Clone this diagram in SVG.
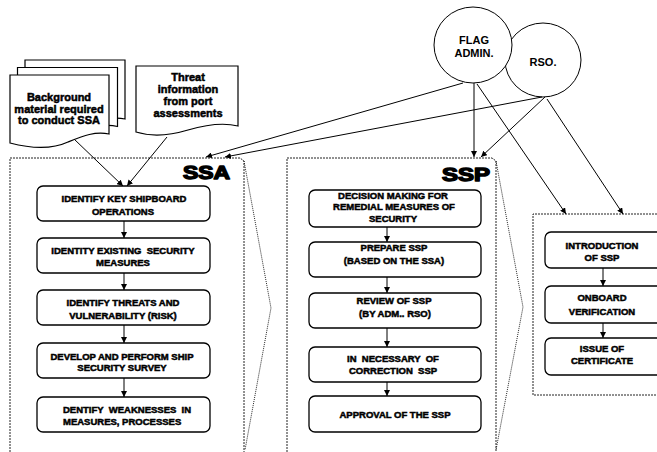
<svg xmlns="http://www.w3.org/2000/svg" width="657" height="452" viewBox="0 0 657 452">
<defs>
<marker id="ah" markerWidth="6" markerHeight="6" refX="6" refY="3" orient="auto" markerUnits="userSpaceOnUse">
<path d="M0,0 L6,3 L0,6 Z" fill="#000"/>
</marker>
<style>
.node rect{fill:#fff;stroke:#000;stroke-width:1.3}
.nt{font-family:"Liberation Sans",Arial,sans-serif;font-weight:bold;font-size:9.5px;text-anchor:middle;fill:#000;stroke:#000;stroke-width:0.5;white-space:pre}
.dt{font-family:"Liberation Sans",Arial,sans-serif;font-weight:bold;font-size:11px;text-anchor:middle;fill:#000;stroke:#000;stroke-width:0.5}
.ct{font-family:"Liberation Sans",Arial,sans-serif;font-weight:bold;font-size:11px;text-anchor:middle;fill:#000}
.big{font-family:"Liberation Sans",Arial,sans-serif;font-weight:bold;font-size:18px;fill:#000;stroke:#000;stroke-width:1.4;stroke-linejoin:round}
.frame{fill:none;stroke:#222;stroke-width:1;stroke-dasharray:2,1}
.chev{fill:none;stroke:#111;stroke-width:0.9;stroke-dasharray:1,1}
.doc{fill:#fff;stroke:#000;stroke-width:1.2}
.con line,.con path{stroke:#000;stroke-width:1;fill:none}
.arr{marker-end:url(#ah)}
</style>
</defs>

<!-- frames -->
<g id="frame-ssa">
<path class="frame" d="M10,452 V158 H240 L244,161 V452"/>
<path class="chev" d="M244,161 L271,308 L245,450"/>
<text class="big" x="183" y="179" textLength="47" lengthAdjust="spacingAndGlyphs">SSA</text>
</g>
<g id="frame-ssp">
<path class="frame" d="M287,452 V158 H492 L496,161 V452"/>
<path class="chev" d="M496,161 L523,307 L496,450"/>
<text class="big" x="442" y="181" textLength="48" lengthAdjust="spacingAndGlyphs">SSP</text>
</g>
<g id="frame-cert">
<path class="frame" d="M680,395 H533 V214 H680"/>
</g>

<!-- documents -->
<g id="doc-background">
<path class="doc" d="M25,60 H125 V119 C111,116 99,121 84,127 C69,134 49,134 25,128 Z"/>
<path class="doc" d="M17.5,67.5 H117.5 V126.5 C103,123 91,128 76,134 C61,141 41,141 17.5,135 Z"/>
<path class="doc" d="M10,75 H109 V134 C95,131 83,136 68,142 C53,149 33,149 10,143 Z"/>
<text class="dt" x="59" y="101">Background</text>
<text class="dt" x="59" y="112.5">material required</text>
<text class="dt" x="59" y="124">to conduct SSA</text>
</g>
<g id="doc-threat">
<path class="doc" d="M136,66 H238 V126 C222,122 205,125 188,130 C168,136 152,137 136,132 Z"/>
<text class="dt" x="188" y="81">Threat</text>
<text class="dt" x="188" y="93">information</text>
<text class="dt" x="188" y="105">from port</text>
<text class="dt" x="188" y="116.5">assessments</text>
</g>

<!-- circles -->
<g id="rso">
<ellipse cx="543" cy="60" rx="38" ry="37" fill="#fff" stroke="#000" stroke-width="1"/>
<text class="ct" x="543" y="66">RSO.</text>
</g>
<g id="flag-admin">
<ellipse cx="473" cy="45" rx="39" ry="38" fill="#fff" stroke="#000" stroke-width="1"/>
<text class="ct" x="474" y="44">FLAG</text>
<text class="ct" x="474" y="57">ADMIN.</text>
</g>

<!-- SSA nodes -->
<g id="ssa1" class="node"><rect x="37" y="186" width="173" height="35" rx="6"/>
<text class="nt" x="124" y="201.5">IDENTIFY KEY SHIPBOARD</text><text class="nt" x="123" y="214.5">OPERATIONS</text></g>
<g id="ssa2" class="node"><rect x="37" y="238" width="173" height="35" rx="6"/>
<text class="nt" x="123" y="253.5">IDENTITY EXISTING  SECURITY</text><text class="nt" x="123" y="265.5">MEASURES</text></g>
<g id="ssa3" class="node"><rect x="37" y="290" width="173" height="35" rx="6"/>
<text class="nt" x="123" y="305.5">IDENTIFY THREATS AND</text><text class="nt" x="123" y="318.5">VULNERABILITY (RISK)</text></g>
<g id="ssa4" class="node"><rect x="37" y="343" width="173" height="35" rx="6"/>
<text class="nt" x="122" y="359.5">DEVELOP AND PERFORM SHIP</text><text class="nt" x="122" y="370.5">SECURITY SURVEY</text></g>
<g id="ssa5" class="node"><rect x="37" y="397" width="173" height="35" rx="6"/>
<text class="nt" x="63" y="412.5" style="text-anchor:start">DENTIFY  WEAKNESSES  IN</text><text class="nt" x="63" y="424.5" style="text-anchor:start">MEASURES, PROCESSES</text></g>

<!-- SSP nodes -->
<g id="ssp1" class="node"><rect x="309" y="190" width="172" height="37" rx="6"/>
<text class="nt" x="393" y="198.5">DECISION MAKING FOR</text><text class="nt" x="394" y="210">REMEDIAL MEASURES OF</text><text class="nt" x="393" y="221.5">SECURITY</text></g>
<g id="ssp2" class="node"><rect x="309" y="242" width="172" height="35" rx="6"/>
<text class="nt" x="394" y="250.5">PREPARE SSP</text><text class="nt" x="394" y="263.5">(BASED ON THE SSA)</text></g>
<g id="ssp3" class="node"><rect x="309" y="293" width="172" height="35" rx="6"/>
<text class="nt" x="394" y="303.5">REVIEW OF SSP</text><text class="nt" x="395" y="317">(BY ADM.. RSO)</text></g>
<g id="ssp4" class="node"><rect x="309" y="347" width="172" height="35" rx="6"/>
<text class="nt" x="393" y="361.5">IN  NECESSARY  OF</text><text class="nt" x="393" y="373.5">CORRECTION  SSP</text></g>
<g id="ssp5" class="node"><rect x="309" y="396" width="172" height="36" rx="6"/>
<text class="nt" x="395" y="417.5">APPROVAL OF THE SSP</text></g>

<!-- certification nodes -->
<g id="cert1" class="node"><rect x="545" y="232" width="120" height="36" rx="6"/>
<text class="nt" x="602" y="248.5">INTRODUCTION</text><text class="nt" x="602" y="260.5">OF SSP</text></g>
<g id="cert2" class="node"><rect x="545" y="286" width="120" height="37" rx="6"/>
<text class="nt" x="602" y="300.5">ONBOARD</text><text class="nt" x="602" y="315">VERIFICATION</text></g>
<g id="cert3" class="node"><rect x="545" y="338" width="120" height="37" rx="6"/>
<text class="nt" x="602" y="351.5">ISSUE OF</text><text class="nt" x="602" y="364">CERTIFICATE</text></g>

<!-- connectors -->
<g id="connectors" class="con">
<line class="arr" x1="74" y1="139" x2="123" y2="186"/>
<line class="arr" x1="167" y1="137" x2="127" y2="186"/>
<line class="arr" x1="463" y1="83" x2="206" y2="157"/>
<line class="arr" x1="542" y1="97" x2="225" y2="157"/>
<line class="arr" x1="474" y1="83" x2="474" y2="157"/>
<line class="arr" x1="545" y1="97" x2="481" y2="157"/>
<line class="arr" x1="477" y1="84" x2="566" y2="214"/>
<line class="arr" x1="547" y1="99" x2="623" y2="214"/>
<line class="arr" x1="124" y1="221" x2="124" y2="238"/>
<line class="arr" x1="124" y1="273" x2="124" y2="290"/>
<line class="arr" x1="124" y1="325" x2="124" y2="343"/>
<line class="arr" x1="124" y1="378" x2="124" y2="397"/>
<line class="arr" x1="387" y1="227" x2="387" y2="242"/>
<line class="arr" x1="387" y1="277" x2="387" y2="293"/>
<line class="arr" x1="387" y1="328" x2="387" y2="347"/>
<line class="arr" x1="387" y1="382" x2="387" y2="396"/>
<line class="arr" x1="603" y1="268" x2="603" y2="286"/>
<line class="arr" x1="603" y1="323" x2="603" y2="338"/>
</g>
</svg>
